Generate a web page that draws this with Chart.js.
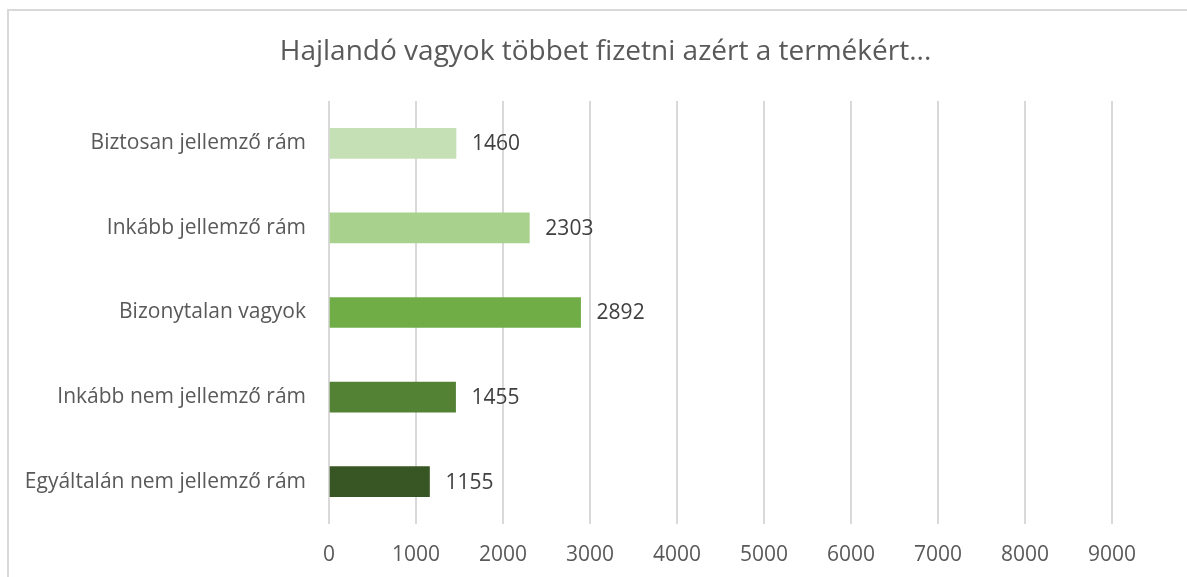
<!DOCTYPE html>
<html>
<head>
<meta charset="utf-8">
<script src="https://cdn.jsdelivr.net/npm/chart.js@4"></script>
<style>
    html, body { margin: 0; padding: 0; background: #fff; overflow: hidden; }
    #frame {
        position: absolute; left: 7px; top: 9px; width: 1190px; height: 580px;
        border-left: 2px solid #d9d9d9; border-top: 2px solid #d9d9d9;
        box-sizing: border-box;
    }
    #wrap { position: absolute; left: 0; top: 0; width: 1187px; height: 577px; }
</style>
</head>
<body>
<div id="frame"></div>
<div id="wrap"><canvas id="chart"></canvas></div>
<script>
const chartTitle = "Hajlandó vagyok többet fizetni azért a termékért...";
const categories = [
    "Biztosan jellemző rám",
    "Inkább jellemző rám",
    "Bizonytalan vagyok",
    "Inkább nem jellemző rám",
    "Egyáltalán nem jellemző rám"
];
const answerCounts = [1460, 2303, 2892, 1455, 1155];
const barColors = ["#C5E0B4", "#A9D18E", "#70AD47", "#548235", "#375623"];
const xTicks = [0, 1000, 2000, 3000, 4000, 5000, 6000, 7000, 8000, 9000];

const textColor = "#595959";
const fontFamily = "'Open Sans', sans-serif";

// value labels to the right of every bar
const valueLabels = {
    id: "valueLabels",
    afterDatasetsDraw(chart) {
        const ctx = chart.ctx;
        const meta = chart.getDatasetMeta(0);
        ctx.save();
        ctx.fillStyle = "#404040";
        ctx.font = "21px " + fontFamily;
        ctx.textAlign = "left";
        ctx.textBaseline = "middle";
        meta.data.forEach((bar, i) => {
            ctx.fillText(String(answerCounts[i]), bar.x + 16, bar.y + 1);
        });
        ctx.restore();
    }
};

// title centred on the whole canvas, not just the padded area
const centredTitle = {
    id: "centredTitle",
    afterDraw(chart) {
        const ctx = chart.ctx;
        ctx.save();
        ctx.fillStyle = textColor;
        ctx.font = "28px " + fontFamily;
        ctx.textAlign = "center";
        ctx.textBaseline = "middle";
        ctx.fillText(chartTitle, chart.width / 2 + 12, 52);
        ctx.restore();
    }
};

document.addEventListener("DOMContentLoaded", function () {
    const ctx = document.getElementById("chart");
    new Chart(ctx, {
        type: "bar",
        data: {
            labels: categories,
            datasets: [{
                label: chartTitle,
                data: answerCounts,
                backgroundColor: barColors,
                barThickness: 30
            }]
        },
        options: {
            indexAxis: "y",
            responsive: true,
            maintainAspectRatio: false,
            animation: false,
            layout: { padding: { left: 0, right: 75, top: 101, bottom: 0 } },
            scales: {
                x: {
                    min: 0,
                    max: 9000,
                    afterBuildTicks(scale) {
                        scale.ticks = xTicks.map(v => ({ value: v }));
                    },
                    afterFit(scale) { scale.height = 53; },
                    grid: { color: "#d9d9d9", lineWidth: 2, drawTicks: false },
                    border: { display: false },
                    ticks: {
                        color: textColor,
                        padding: 18,
                        font: { family: fontFamily, size: 21 },
                        callback: value => String(value)
                    }
                },
                y: {
                    afterFit(scale) { scale.width = 329; },
                    grid: { display: false },
                    border: { display: false },
                    ticks: {
                        color: textColor,
                        padding: 15,
                        font: { family: fontFamily, size: 21 }
                    }
                }
            },
            plugins: {
                legend: { display: false },
                tooltip: { enabled: false },
                title: { display: false }
            }
        },
        plugins: [valueLabels, centredTitle]
    });
});
</script>
</body>
</html>
